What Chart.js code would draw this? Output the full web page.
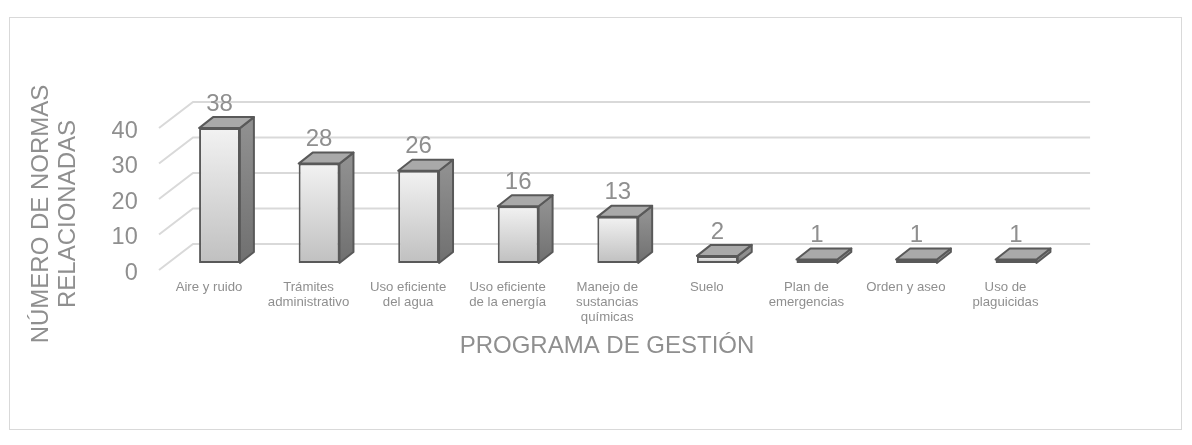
<!DOCTYPE html>
<html lang="es">
<head>
<meta charset="UTF-8">
<title>Normas por programa de gestión</title>
<script src="https://cdn.jsdelivr.net/npm/chart.js"></script>
<style>
    html, body { margin: 0; padding: 0; background: #fff; }
    #wrap { position: relative; width: 1192px; height: 445px; }
    #frame { position: absolute; left: 9px; top: 17px; width: 1171px; height: 411px; border: 1.5px solid #d9d9d9; }
    canvas { position: absolute; left: 0; top: 0; }
</style>
</head>
<body>
<div id="wrap">
    <div id="frame"></div>
    <canvas id="chart" width="1192" height="445"></canvas>
</div>
<script>
    const categories = [
        ['Aire y ruido'],
        ['Trámites', 'administrativo'],
        ['Uso eficiente', 'del agua'],
        ['Uso eficiente', 'de la energía'],
        ['Manejo de', 'sustancias', 'químicas'],
        ['Suelo'],
        ['Plan de', 'emergencias'],
        ['Orden y aseo'],
        ['Uso de', 'plaguicidas']
    ];
    const normas = [38, 28, 26, 16, 13, 2, 1, 1, 1];
    const yTicks = [0, 10, 20, 30, 40];
    const yTitle = ['NÚMERO DE NORMAS', 'RELACIONADAS'];
    const xTitle = 'PROGRAMA DE GESTIÓN';

    const TEXT = '#8f8f8f';
    const GRID = '#d9d9d9';
    const FONT = '"Liberation Sans", Arial, sans-serif';

    // fake 3d: the bars sit in the middle of the floor
    const BAR_DX = 14, BAR_DY = 11;       // bar depth
    const BACK_DX = 23.3, BACK_DY = 19;   // bar plane -> back wall
    const FRONT_DX = 10.7, FRONT_DY = 7;  // bar plane -> front edge

    function poly(ctx, pts, fill, stroke) {
        ctx.beginPath();
        pts.forEach((p, i) => i ? ctx.lineTo(p[0], p[1]) : ctx.moveTo(p[0], p[1]));
        ctx.closePath();
        ctx.fillStyle = fill;
        ctx.fill();
        ctx.strokeStyle = stroke;
        ctx.lineWidth = 2;
        ctx.lineJoin = 'round';
        ctx.stroke();
    }

    const walls = {
        id: 'walls',
        beforeDatasetsDraw(chart) {
            const { ctx, chartArea, scales } = chart;
            ctx.save();
            ctx.strokeStyle = GRID;
            ctx.lineWidth = 2;
            yTicks.forEach(v => {
                const y = scales.y.getPixelForValue(v);
                ctx.beginPath();
                ctx.moveTo(chartArea.left - FRONT_DX, y + FRONT_DY);
                ctx.lineTo(chartArea.left + BACK_DX, y - BACK_DY);
                ctx.lineTo(chartArea.right + BACK_DX + 1, y - BACK_DY);
                ctx.stroke();
            });
            // top and side of each bar
            chart.getDatasetMeta(0).data.forEach(bar => {
                const l = bar.x - bar.width / 2, r = bar.x + bar.width / 2;
                const t = bar.y, b = bar.base;
                const side = ctx.createLinearGradient(0, t, 0, b);
                side.addColorStop(0, '#8f8f8f');
                side.addColorStop(1, '#707070');
                poly(ctx, [[r, t], [r + BAR_DX, t - BAR_DY], [r + BAR_DX, b - BAR_DY], [r, b]], side, '#595959');
                poly(ctx, [[l, t], [l + BAR_DX, t - BAR_DY], [r + BAR_DX, t - BAR_DY], [r, t]], '#a9a9a9', '#595959');
            });
            ctx.restore();
        }
    };

    const texts = {
        id: 'texts',
        afterDraw(chart) {
            const { ctx } = chart;
            ctx.save();
            ctx.fillStyle = TEXT;
            ctx.textAlign = 'center';
            ctx.textBaseline = 'middle';
            ctx.font = '24px ' + FONT;
            chart.getDatasetMeta(0).data.forEach((bar, i) => {
                ctx.fillText(normas[i], bar.x, bar.y - 24);
            });
            ctx.fillText(xTitle, 607, 346);
            ctx.translate(54, 214);
            ctx.rotate(-Math.PI / 2);
            ctx.fillText(yTitle[0], 0, -13);
            ctx.fillText(yTitle[1], 0, 14);
            ctx.restore();
        }
    };

    new Chart(document.getElementById('chart'), {
        type: 'bar',
        data: {
            labels: categories,
            datasets: [{
                data: normas,
                backgroundColor(c) {
                    const chart = c.chart;
                    if (!chart.chartArea || c.dataIndex === undefined) return '#e0e0e0';
                    const y = chart.scales.y;
                    const g = chart.ctx.createLinearGradient(0, y.getPixelForValue(normas[c.dataIndex]), 0, y.getPixelForValue(0));
                    g.addColorStop(0, '#f2f2f2');
                    g.addColorStop(1, '#c0c0c0');
                    return g;
                },
                borderColor: '#595959',
                borderWidth: 2,
                borderSkipped: false,
                categoryPercentage: 0.41,
                barPercentage: 1
            }]
        },
        plugins: [walls, texts],
        options: {
            responsive: false,
            animation: false,
            layout: { padding: { top: 121, right: 126.2, bottom: 0, left: 0 } },
            plugins: { legend: { display: false }, tooltip: { enabled: false } },
            scales: {
                x: {
                    grid: { display: false, drawTicks: false },
                    border: { display: false },
                    afterFit(scale) { scale.height = 182; },
                    ticks: {
                        color: TEXT,
                        font: { family: FONT, size: 13.2, lineHeight: 1.13 },
                        padding: 17,
                        labelOffset: -10.5,
                        maxRotation: 0,
                        autoSkip: false
                    }
                },
                y: {
                    min: 0,
                    max: 40,
                    grid: { display: false, drawTicks: false },
                    border: { display: false },
                    afterFit(scale) { scale.width = 169.7; },
                    afterBuildTicks(scale) { scale.ticks = yTicks.map(v => ({ value: v })); },
                    ticks: {
                        color: TEXT,
                        font: { family: FONT, size: 23.5 },
                        padding: 32,
                        labelOffset: 10.5
                    }
                }
            }
        }
    });
</script>
</body>
</html>
